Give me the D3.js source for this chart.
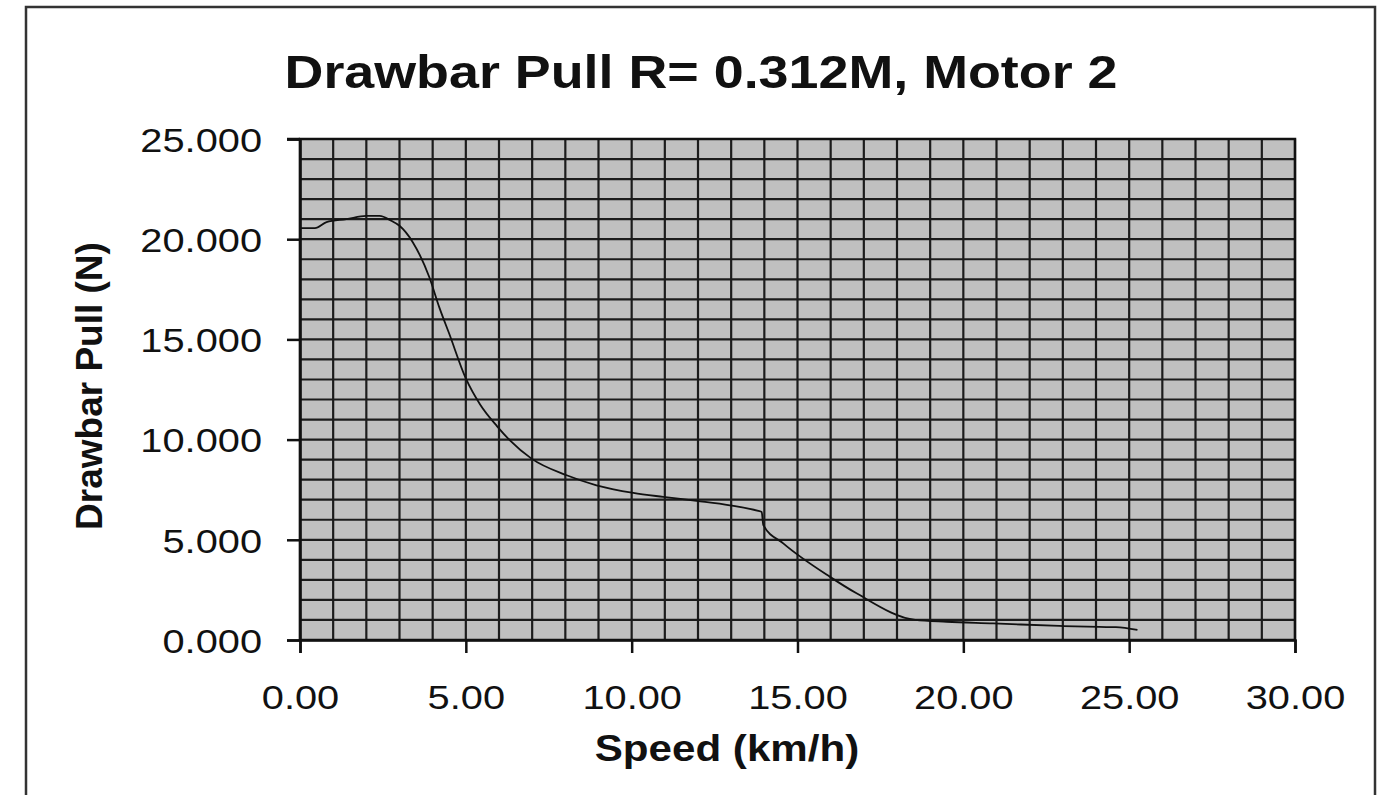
<!DOCTYPE html>
<html>
<head>
<meta charset="utf-8">
<script src="https://cdn.jsdelivr.net/npm/d3@7/dist/d3.min.js"></script>
<style>
html,body{margin:0;padding:0;background:#fff;}
svg{display:block;font-family:"Liberation Sans",Arial,sans-serif;}
</style>
</head>
<body>
<svg id="chart" width="1395" height="795"></svg>
<script>
const titleText = "Drawbar Pull R= 0.312M, Motor 2";
const xTitle = "Speed (km/h)";
const yTitle = "Drawbar Pull (N)";

const speed = [0, 0.45, 0.8, 1.4, 2.0, 2.4, 2.75, 3.0, 3.4, 3.9, 4.2, 4.5, 5.0, 5.43, 5.95, 6.33, 6.98, 8.04, 8.94, 10.05, 10.95, 11.96, 12.96, 13.82, 13.92, 13.97, 14.57, 15.98, 16.78, 18.55, 19.5, 20.9, 22.9, 24.1, 24.6, 25.25];
const pull  = [20550, 20550, 20850, 21000, 21160, 21160, 20920, 20670, 19850, 18100, 16600, 15280, 13050, 11750, 10650, 9960, 9050, 8220, 7720, 7340, 7140, 6940, 6720, 6440, 6390, 5730, 4820, 3150, 2330, 1000, 910, 830, 700, 650, 640, 500];

const xTicks = [0, 5, 10, 15, 20, 25, 30];
const xTickLabels = ["0.00", "5.00", "10.00", "15.00", "20.00", "25.00", "30.00"];
const yTicks = [0, 5000, 10000, 15000, 20000, 25000];
const yTickLabels = ["0.000", "5.000", "10.000", "15.000", "20.000", "25.000"];
const xGridStep = 1;
const yGridStep = 1000;

const svg = d3.select("#chart");
const stretch = 1.17;

// outer frame
svg.append("rect").attr("x", 26).attr("y", 7).attr("width", 1349).attr("height", 820)
  .attr("fill", "#fff").attr("stroke", "#333").attr("stroke-width", 2.5);

const L = 300, R = 1295, T = 139, B = 640;
const x = d3.scaleLinear().domain([0, 30]).range([L, R]);
const y = d3.scaleLinear().domain([0, 25000]).range([B, T]);

// plot background
svg.append("rect").attr("x", L).attr("y", T).attr("width", R - L).attr("height", B - T)
  .attr("fill", "#c0c0c0");

// grid
const g = svg.append("g");
g.selectAll("line.v").data(d3.range(0, 30 + 1e-9, xGridStep)).join("line")
  .attr("x1", d => x(d)).attr("x2", d => x(d)).attr("y1", T).attr("y2", B)
  .attr("stroke", "#1c1c1c").attr("stroke-width", 2.2);
g.selectAll("line.h").data(d3.range(0, 25000 + 1e-9, yGridStep)).join("line")
  .attr("x1", L).attr("x2", R).attr("y1", d => y(d)).attr("y2", d => y(d))
  .attr("stroke", "#1c1c1c").attr("stroke-width", 2.2);

// axes
const xAxis = d3.axisBottom(x).tickValues(xTicks)
  .tickFormat((d, i) => xTickLabels[i]).tickSize(13).tickPadding(32);
const yAxis = d3.axisLeft(y).tickValues(yTicks)
  .tickFormat((d, i) => yTickLabels[i]).tickSize(13).tickPadding(25);

const gx = svg.append("g").attr("transform", `translate(0,${B})`).call(xAxis);
const gy = svg.append("g").attr("transform", `translate(${L},0)`).call(yAxis);
[gx, gy].forEach(a => {
  a.select(".domain").attr("stroke", "#111").attr("stroke-width", 2.5);
  a.selectAll(".tick line").attr("stroke", "#111").attr("stroke-width", 2.5);
  a.selectAll(".tick text").attr("fill", "#111").attr("font-size", 34)
    .attr("font-family", "Liberation Sans, Arial, sans-serif");
});
gy.selectAll(".tick text").attr("dy", "0.36em");

// border around plot
svg.append("rect").attr("x", L).attr("y", T).attr("width", R - L).attr("height", B - T)
  .attr("fill", "none").attr("stroke", "#111").attr("stroke-width", 2.5);
svg.append("line").attr("x1", L - 13).attr("x2", L).attr("y1", T).attr("y2", T)
  .attr("stroke", "#111").attr("stroke-width", 2.5);

// data line
const pts = speed.map((s, i) => [s, pull[i]]);
svg.append("path").datum(pts)
  .attr("d", d3.line().x(d => x(d[0])).y(d => y(d[1])).curve(d3.curveMonotoneX))
  .attr("fill", "none").attr("stroke", "#111").attr("stroke-width", 1.8);

// titles
svg.append("text").attr("class", "st").attr("x", 701).attr("y", 88)
  .attr("text-anchor", "middle").attr("font-size", 46).attr("font-weight", "bold")
  .attr("fill", "#111").text(titleText);
svg.append("text").attr("class", "st").attr("x", 727).attr("y", 761)
  .attr("text-anchor", "middle").attr("font-size", 36).attr("font-weight", "bold")
  .attr("fill", "#111").text(xTitle);
svg.append("text").attr("transform", "translate(102,386) rotate(-90)")
  .attr("text-anchor", "middle").attr("font-size", 37).attr("font-weight", "bold")
  .attr("fill", "#111").text(yTitle);

// horizontal stretch of text to mimic reference
svg.selectAll("text.st, .tick text").each(function () {
  const w = this.getComputedTextLength();
  d3.select(this).attr("textLength", w * stretch).attr("lengthAdjust", "spacingAndGlyphs");
});
</script>
</body>
</html>
